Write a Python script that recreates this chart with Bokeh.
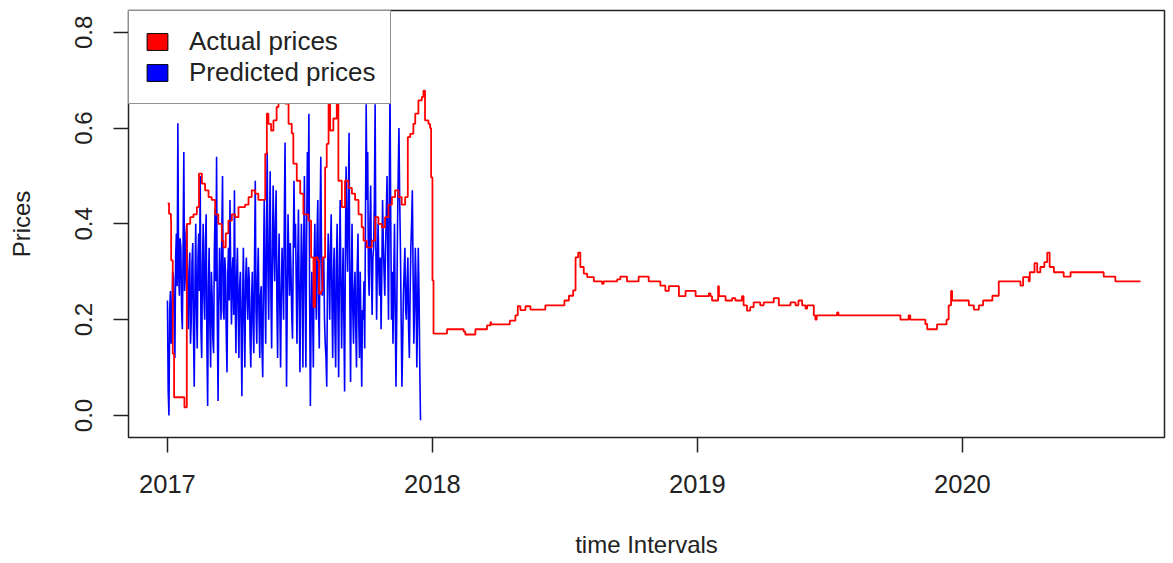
from bokeh.plotting import figure
from bokeh.models import Range1d, FixedTicker, Legend, LegendItem, NumeralTickFormatter
from bokeh.embed import file_html
from bokeh.resources import INLINE
import numpy as np

# ---- data ----
# Actual prices: (decimal-year offset from 2017, price), step series
actual_t = [0.001, 0.006, 0.013, 0.014, 0.020, 0.025, 0.060, 0.064, 0.069, 0.073, 0.086, 0.098,
            0.111, 0.119, 0.130, 0.142, 0.155, 0.167, 0.180, 0.192, 0.205, 0.211, 0.220, 0.230,
            0.243, 0.255, 0.268, 0.293, 0.306, 0.318, 0.331, 0.343, 0.362, 0.369, 0.375, 0.381,
            0.391, 0.400, 0.412, 0.419, 0.438, 0.444, 0.457, 0.469, 0.475, 0.488, 0.501, 0.513,
            0.532, 0.542, 0.551, 0.557, 0.567, 0.572, 0.580, 0.585, 0.595, 0.601, 0.608, 0.614,
            0.626, 0.639, 0.645, 0.658, 0.670, 0.683, 0.696, 0.708, 0.721, 0.733, 0.740, 0.752,
            0.771, 0.784, 0.796, 0.809, 0.821, 0.834, 0.847, 0.859, 0.872, 0.884, 0.897, 0.907,
            0.916, 0.928, 0.935, 0.947, 0.960, 0.966, 0.972, 0.985, 0.991, 0.995, 1.000, 1.004,
            1.055, 1.118, 1.124, 1.162, 1.206, 1.219, 1.221, 1.292, 1.313, 1.322, 1.332, 1.351,
            1.370, 1.426, 1.498, 1.515, 1.531, 1.540, 1.550, 1.558, 1.571, 1.584, 1.609, 1.640,
            1.646, 1.697, 1.709, 1.734, 1.778, 1.816, 1.860, 1.879, 1.892, 1.930, 1.955, 1.993,
            2.043, 2.049, 2.055, 2.078, 2.081, 2.106, 2.131, 2.143, 2.168, 2.174, 2.187, 2.199,
            2.212, 2.237, 2.250, 2.275, 2.288, 2.307, 2.351, 2.370, 2.381, 2.395, 2.408, 2.414,
            2.439, 2.445, 2.450, 2.527, 2.532, 2.766, 2.797, 2.803, 2.860, 2.867, 2.904, 2.940,
            2.948, 2.957, 2.961, 3.024, 3.043, 3.062, 3.078, 3.113, 3.137, 3.219, 3.229, 3.250,
            3.254, 3.272, 3.282, 3.294, 3.309, 3.320, 3.329, 3.345, 3.382, 3.408, 3.533, 3.577,
            3.672]
actual_v = [0.443, 0.421, 0.407, 0.324, 0.129, 0.038, 0.038, 0.017, 0.017, 0.400, 0.414, 0.420,
            0.435, 0.505, 0.484, 0.470, 0.456, 0.450, 0.420, 0.400, 0.365, 0.351, 0.380, 0.407,
            0.420, 0.414, 0.435, 0.440, 0.456, 0.470, 0.463, 0.450, 0.450, 0.546, 0.630, 0.609,
            0.595, 0.616, 0.644, 0.680, 0.690, 0.651, 0.609, 0.589, 0.526, 0.490, 0.463, 0.420,
            0.407, 0.330, 0.226, 0.330, 0.324, 0.254, 0.260, 0.330, 0.518, 0.567, 0.660, 0.595,
            0.620, 0.651, 0.490, 0.435, 0.490, 0.475, 0.463, 0.450, 0.420, 0.393, 0.365, 0.351,
            0.365, 0.414, 0.400, 0.393, 0.414, 0.440, 0.456, 0.470, 0.456, 0.440, 0.456, 0.581,
            0.588, 0.609, 0.630, 0.658, 0.665, 0.678, 0.616, 0.609, 0.600, 0.497, 0.282, 0.171,
            0.180, 0.175, 0.169, 0.180, 0.188, 0.195, 0.190, 0.198, 0.209, 0.228, 0.220, 0.228,
            0.221, 0.230, 0.240, 0.250, 0.261, 0.330, 0.340, 0.310, 0.296, 0.289, 0.280, 0.275,
            0.280, 0.284, 0.290, 0.280, 0.290, 0.280, 0.271, 0.260, 0.270, 0.249, 0.260, 0.249,
            0.255, 0.249, 0.240, 0.270, 0.249, 0.240, 0.245, 0.240, 0.249, 0.230, 0.219, 0.226,
            0.236, 0.230, 0.236, 0.236, 0.245, 0.230, 0.236, 0.230, 0.240, 0.230, 0.223, 0.230,
            0.209, 0.200, 0.209, 0.215, 0.209, 0.200, 0.209, 0.200, 0.191, 0.180, 0.190, 0.200,
            0.230, 0.260, 0.240, 0.230, 0.221, 0.230, 0.240, 0.250, 0.280, 0.271, 0.289, 0.280,
            0.299, 0.318, 0.299, 0.310, 0.320, 0.340, 0.310, 0.299, 0.290, 0.299, 0.290, 0.280,
            0.280]

# Predicted prices (daily, 2017)
predicted_v = [
    # Jan - Mar
    0.24, 0.05, 0.00, 0.22, 0.26, 0.15, 0.18, 0.30, 0.29, 0.20,
    0.12, 0.33, 0.38, 0.27, 0.61, 0.30, 0.25, 0.37, 0.35, 0.22,
    0.18, 0.35, 0.55, 0.26, 0.29, 0.38, 0.40, 0.24, 0.18, 0.30,
    0.34, 0.15, 0.20, 0.32, 0.36, 0.17, 0.06, 0.28, 0.40, 0.22,
    0.14, 0.33, 0.38, 0.26, 0.50, 0.18, 0.12, 0.31, 0.40, 0.25,
    0.20, 0.36, 0.42, 0.15, 0.02, 0.27, 0.35, 0.19, 0.10, 0.30,
    0.25, 0.16, 0.13, 0.34, 0.43, 0.28, 0.54, 0.20, 0.03, 0.24,
    0.35, 0.27, 0.20, 0.38, 0.50, 0.22, 0.20, 0.33, 0.30, 0.17,
    0.09, 0.29, 0.35, 0.24, 0.45, 0.30,
    # Apr - Jun
    0.19, 0.30, 0.33, 0.21, 0.47, 0.25, 0.13, 0.29, 0.35, 0.22,
    0.12, 0.27, 0.30, 0.18, 0.04, 0.24, 0.35, 0.20, 0.10, 0.28,
    0.33, 0.25, 0.20, 0.31, 0.28, 0.16, 0.10, 0.24, 0.30, 0.19,
    0.13, 0.33, 0.49, 0.22, 0.15, 0.28, 0.35, 0.21, 0.12, 0.25,
    0.27, 0.14, 0.08, 0.30, 0.45, 0.26, 0.15, 0.38, 0.55, 0.30,
    0.20, 0.36, 0.51, 0.25, 0.14, 0.33, 0.48, 0.35, 0.28, 0.40,
    0.47, 0.24, 0.12, 0.30, 0.38, 0.22, 0.10, 0.26, 0.35, 0.28,
    0.20, 0.41, 0.57, 0.30, 0.06, 0.25, 0.42, 0.33, 0.25, 0.36,
    0.30, 0.21, 0.16, 0.34, 0.49, 0.35,
    # Jul - Sep
    0.40, 0.28, 0.15, 0.32, 0.43, 0.24, 0.09, 0.27, 0.40, 0.30,
    0.10, 0.35, 0.50, 0.26, 0.10, 0.38, 0.55, 0.42, 0.63, 0.25,
    0.02, 0.20, 0.30, 0.22, 0.10, 0.31, 0.40, 0.27, 0.20, 0.38,
    0.45, 0.22, 0.14, 0.40, 0.54, 0.33, 0.25, 0.30, 0.33, 0.20,
    0.15, 0.12, 0.06, 0.28, 0.38, 0.30, 0.20, 0.35, 0.42, 0.24,
    0.12, 0.29, 0.35, 0.18, 0.10, 0.32, 0.40, 0.22, 0.08, 0.30,
    0.45, 0.28, 0.14, 0.26, 0.35, 0.20, 0.05, 0.33, 0.52, 0.38,
    0.30, 0.45, 0.59, 0.25, 0.07, 0.28, 0.40, 0.22, 0.15, 0.26,
    0.30, 0.18, 0.10, 0.31, 0.38, 0.20, 0.12,
    # Oct - Dec
    0.30, 0.18, 0.06, 0.22, 0.20, 0.28, 0.14, 0.40, 0.65, 0.45,
    0.55, 0.30, 0.25, 0.40, 0.48, 0.30, 0.21, 0.33, 0.35, 0.45,
    0.65, 0.35, 0.20, 0.32, 0.40, 0.30, 0.25, 0.33, 0.18, 0.30,
    0.45, 0.36, 0.30, 0.25, 0.35, 0.42, 0.50, 0.33, 0.20, 0.45,
    0.68, 0.40, 0.20, 0.30, 0.15, 0.28, 0.40, 0.22, 0.06, 0.20,
    0.38, 0.50, 0.60, 0.45, 0.35, 0.20, 0.06, 0.15, 0.25, 0.30,
    0.35, 0.22, 0.20, 0.28, 0.33, 0.18, 0.12, 0.25, 0.35, 0.40,
    0.47, 0.30, 0.15, 0.22, 0.35, 0.28, 0.10, 0.20, 0.35, 0.25,
    0.10, -0.01]
predicted_start, predicted_end = 0.0, 0.955

base_year = 2017
year_ticks = [2017, 2018, 2019, 2020]
price_ticks = [0.0, 0.2, 0.4, 0.6, 0.8]

FONT = "Liberation Sans"
INK = "#222222"

actual_x = [base_year + t for t in actual_t]
pred_x = list(base_year + np.linspace(predicted_start, predicted_end, len(predicted_v)))

W, H = 1166, 562
LEFT, TOP, RIGHT_B, BOTTOM = 128, 10, 2, H - 437
frame_w = W - LEFT - RIGHT_B
x0 = 2016.853
p = figure(width=W, height=H, output_backend="svg", toolbar_location=None,
           x_range=Range1d(x0, x0 + frame_w / 265.0), y_range=Range1d(-0.046, 0.8455),
           min_border_left=LEFT, min_border_right=RIGHT_B, min_border_top=TOP,
           min_border_bottom=BOTTOM,
           x_axis_label="time Intervals", y_axis_label="Prices")
p.grid.visible = False
p.outline_line_color = INK
p.outline_line_width = 1.5
p.background_fill_color = "white"
p.border_fill_color = "white"

p.line(pred_x, predicted_v, line_color="#0000FF", line_width=1.6)
p.step(actual_x, actual_v, mode="after", line_color="#FF0000", line_width=1.8)

for ax in (p.xaxis[0], p.yaxis[0]):
    ax.axis_line_color = None
    ax.major_tick_out = 15
    ax.major_tick_in = 0
    ax.major_tick_line_color = INK
    ax.major_tick_line_width = 1.5
    ax.minor_tick_line_color = None
    ax.major_label_text_font = FONT
    ax.major_label_text_color = INK
    ax.axis_label_text_font = FONT
    ax.axis_label_text_font_size = "24px"
    ax.axis_label_text_font_style = "normal"
    ax.axis_label_text_color = INK

p.xaxis.major_label_text_font_size = "25.5px"
p.yaxis.major_label_text_font_size = "24px"
p.xaxis.ticker = FixedTicker(ticks=year_ticks)
p.xaxis.major_label_standoff = 22
p.xaxis.axis_label_standoff = 35
p.yaxis.ticker = FixedTicker(ticks=price_ticks)
p.yaxis.formatter = NumeralTickFormatter(format="0.0")
p.yaxis.major_label_orientation = "vertical"
p.yaxis.major_label_standoff = 21
p.yaxis.axis_label_standoff = 38

nan = float("nan")
ra = p.quad(left=[nan], right=[nan], top=[nan], bottom=[nan],
            fill_color="#FF0000", line_color="black", line_width=1)
rp = p.quad(left=[nan], right=[nan], top=[nan], bottom=[nan],
            fill_color="#0000FF", line_color="black", line_width=1)
legend = Legend(items=[LegendItem(label="Actual prices", renderers=[ra]),
                       LegendItem(label="Predicted prices", renderers=[rp])],
                location="top_left", margin=0, padding=15, spacing=0,
                glyph_width=26, glyph_height=21, label_standoff=19,
                label_text_font=FONT, label_text_font_size="26px", label_text_color=INK,
                border_line_color=INK, border_line_width=1.5,
                background_fill_color="white", background_fill_alpha=1.0)
p.add_layout(legend)

open("out.html", "w").write(file_html(p, INLINE))
